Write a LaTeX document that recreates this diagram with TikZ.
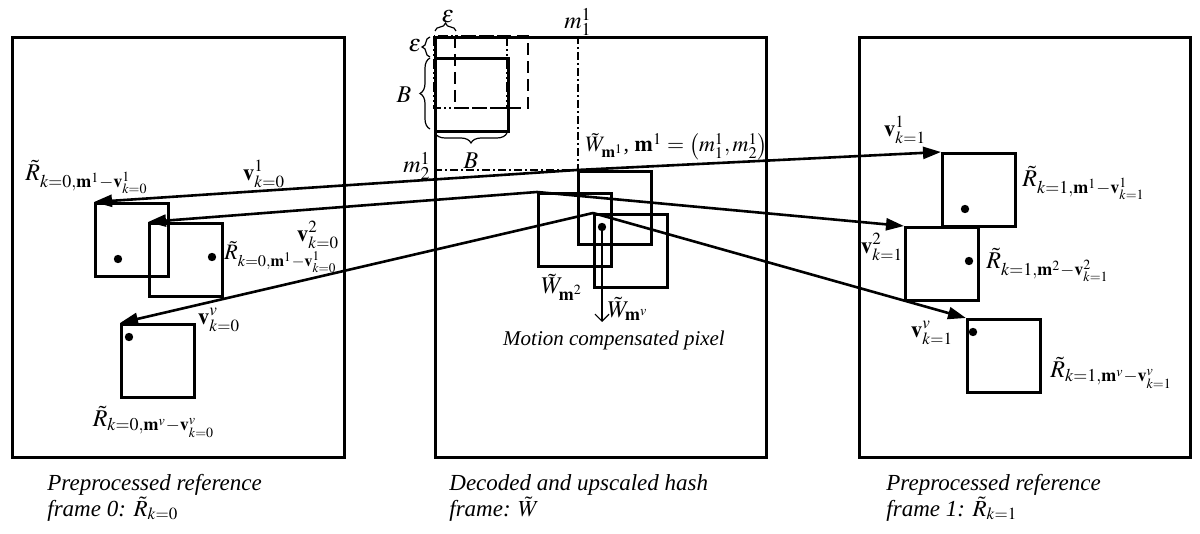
\documentclass[tikz,border=0pt]{standalone}
\usepackage{mathptmx}
\usepackage{fontspec}
\setmainfont{Liberation Serif}
\usetikzlibrary{arrows.meta,decorations.pathreplacing}
\begin{document}
\begin{tikzpicture}[x=0.5pt,y=-0.5pt,
  frm/.style={draw, line width=1.4pt, inner sep=0pt, anchor=north west, minimum height=210pt},
  sq/.style={draw, line width=1.4pt, inner sep=0pt, minimum width=36.5pt, minimum height=36.5pt, anchor=north west},
  mv/.style={line width=1.3pt, -{Triangle[length=9pt,width=6pt]}},
  thinarr/.style={line width=0.6pt, -{Straight Barb[length=3.5pt,width=7pt]}},
  pdot/.style={circle, fill, inner sep=0pt, minimum size=4.2pt},
  lab/.style={inner sep=1pt, font=\fontsize{12}{14}\selectfont},
  vlab/.style={inner sep=1pt, font=\fontsize{11.5}{14}\selectfont},
  captxt/.style={anchor=base west, inner sep=0pt, font=\fontsize{11.5}{14}\selectfont\itshape},
  dsh/.style={line width=0.8pt, dash pattern=on 6pt off 3pt},
  ddot/.style={line width=0.7pt, dash pattern=on 5pt off 1.5pt on 1pt off 1.5pt on 1pt off 1.5pt},
  dd/.style={line width=0.6pt, dash pattern=on 4pt off 1.5pt on 1pt off 1.5pt},
  brc/.style={decorate, decoration={brace, amplitude=#1}, line width=0.6pt}
]
\useasboundingbox (0,0) rectangle (1200,534);

% helper squares in the centre frame
\draw[ddot] (434,36) rectangle (507,108);
\draw[dsh] (455,36) rectangle (528,108);

% frames
\node[frm, minimum width=166pt] (F0) at (11,36) {};
\node[frm, minimum width=165.5pt] (FW) at (434,36) {};
\node[frm, minimum width=165.5pt] (F1) at (858,36) {};

% solid block
\node[sq] (S) at (434,57) {};

% m lines
\coordinate (m1top) at (578,36);
\coordinate (m2left) at (434,170);
\draw[dd] (m1top) -- (578,170);
\draw[dd] (m2left) -- (578,170);

% braces
\draw[brc=4pt] (435,31) -- (456,31);
\draw[brc=4pt] (430,57) -- (430,37);
\draw[brc=5pt] (430,129) -- (430,58);
\draw[brc=5pt] (507,133) -- (435,133);
\node[lab] (eps1) at (448,17) {$\varepsilon$};
\node[lab] (eps2) at (415,46) {$\varepsilon$};
\node[lab] (B1) at (404,95) {$B$};
\node[lab] (B2) at (471,161) {$B$};
\node[lab] (m11) at (578,22) {$m_1^1$};
\node[lab, anchor=east] (m21) at (433,166) {$m_2^1$};

% W squares
\node[sq] (W1) at (577,170) {};
\node[sq] (W2) at (537,192) {};
\node[sq] (Wv) at (593,213) {};
\node[pdot] (pix) at (602,227) {};
\coordinate (pixend) at (602,322);
\draw[thinarr] (pix.center) -- (pixend);

% left squares
\node[sq] (L1) at (94,202) {};
\node[sq] (L2) at (148,222) {};
\node[sq] (L3) at (120,323) {};
\node[pdot] (dL1) at (118,259) {};
\node[pdot] (dL2) at (212,257) {};
\node[pdot] (dL3) at (129,337) {};

% right squares
\node[sq] (R1) at (941,152) {};
\node[sq] (R2) at (904,226) {};
\node[sq] (R3) at (966,318) {};
\node[pdot] (dR1) at (965,209) {};
\node[pdot] (dR2) at (969,261) {};
\node[pdot] (dR3) at (973,332) {};

% motion vectors
\draw[mv] (W1.north west) -- (L1.north west);
\draw[mv] (W1.north west) -- (R1.north west);
\draw[mv] (W2.north west) -- (L2.north west);
\draw[mv] (W2.north west) -- (R2.north west);
\draw[mv] (Wv.north west) -- (L3.north west);
\draw[mv] (Wv.north west) -- (R3.north west);

% centre labels
\node[inner sep=1pt, font=\fontsize{11}{13}\selectfont, anchor=base west] (lW1) at (583,152) {$\tilde W_{\mathbf m^1}$, $\mathbf m^1=\left(m_1^1,m_2^1\right)$};
\node[lab] (lW2) at (562,287) {$\tilde W_{\mathbf m^2}$};
\node[lab] (lWv) at (628,309) {$\tilde W_{\mathbf m^v}$};
\node[inner sep=0pt, font=\fontsize{10.5}{12}\selectfont\itshape] (mcp) at (614,340) {Motion compensated pixel};

% left labels
\node[lab] (lL1) at (87,177) {$\tilde R_{k=0,\mathbf m^1-\mathbf v^1_{k=0}}$};
\node[vlab] (v10) at (264,174) {$\mathbf v^1_{k=0}$};
\node[inner sep=1pt, font=\fontsize{11}{13}\selectfont, anchor=west] (lL2) at (222,257) {$\tilde R_{k=0,\mathbf m^1-\mathbf v^1_{k=0}}$};
\node[vlab] (v20) at (318,235) {$\mathbf v^2_{k=0}$};
\node[vlab] (vv0) at (219,320) {$\mathbf v^v_{k=0}$};
\node[lab] (lL3) at (154,422) {$\tilde R_{k=0,\mathbf m^v-\mathbf v^v_{k=0}}$};

% right labels
\node[vlab] (v11) at (905,130) {$\mathbf v^1_{k=1}$};
\node[lab, anchor=west] (lR1) at (1020,183) {$\tilde R_{k=1,\mathbf m^1-\mathbf v^1_{k=1}}$};
\node[vlab] (v21) at (882,247) {$\mathbf v^2_{k=1}$};
\node[lab, anchor=west] (lR2) at (984,265) {$\tilde R_{k=1,\mathbf m^2-\mathbf v^2_{k=1}}$};
\node[vlab] (vv1) at (932,333) {$\mathbf v^v_{k=1}$};
\node[lab, anchor=west] (lR3) at (1048,373) {$\tilde R_{k=1,\mathbf m^v-\mathbf v^v_{k=1}}$};

% captions
\node[captxt] (c0a) at (47,490) {Preprocessed reference};
\node[captxt] (c0b) at (47,516) {frame 0: $\tilde R_{k=0}$};
\node[captxt] (cWa) at (449,490) {Decoded and upscaled hash};
\node[captxt] (cWb) at (449,516) {frame: $\tilde W$};
\node[captxt] (c1a) at (886,490) {Preprocessed reference};
\node[captxt] (c1b) at (886,516) {frame 1: $\tilde R_{k=1}$};
\end{tikzpicture}
\end{document}
